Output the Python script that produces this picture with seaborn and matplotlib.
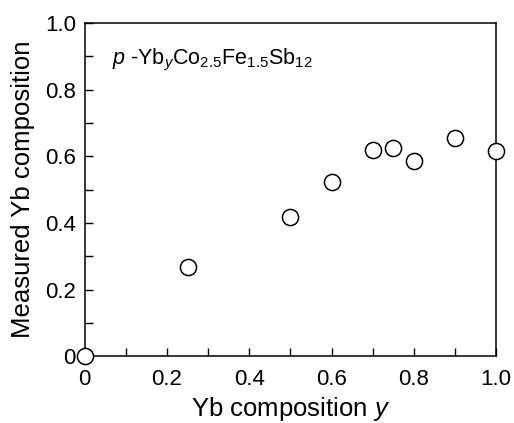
import matplotlib
matplotlib.use("Agg")
import matplotlib.pyplot as plt
import seaborn as sns
import pandas as pd
from matplotlib.ticker import MultipleLocator, FixedLocator

nominal_y = [0.0, 0.25, 0.5, 0.6, 0.7, 0.75, 0.8, 0.9, 1.0]
measured_yb = [0.0, 0.267, 0.418, 0.523, 0.62, 0.625, 0.585, 0.655, 0.617]
tick_vals = [0, 0.2, 0.4, 0.6, 0.8, 1.0]
tick_labels = ["0", "0.2", "0.4", "0.6", "0.8", "1.0"]

df = pd.DataFrame({"y": nominal_y, "m": measured_yb})

sns.set_style("ticks")
plt.rcParams["font.family"] = ["Liberation Sans", "DejaVu Sans"]
plt.rcParams["mathtext.fontset"] = "custom"
plt.rcParams["mathtext.rm"] = "Liberation Sans"
plt.rcParams["mathtext.it"] = "Liberation Sans:italic"
plt.rcParams["text.color"] = "black"
plt.rcParams["axes.labelcolor"] = "black"
plt.rcParams["xtick.color"] = "black"
plt.rcParams["ytick.color"] = "black"

fig = plt.figure(figsize=(5.14, 4.23), dpi=100)
ax = fig.add_axes([0.165, 0.158, 0.800, 0.788])

sns.scatterplot(data=df, x="y", y="m", ax=ax, marker="o", s=135,
                facecolor="white", edgecolor="black", linewidth=1.1,
                clip_on=False, zorder=5)

ax.set_xlim(0, 1.0)
ax.set_ylim(0, 1.0)
ax.xaxis.set_major_locator(FixedLocator(tick_vals))
ax.yaxis.set_major_locator(FixedLocator(tick_vals))
ax.set_xticklabels(tick_labels)
ax.set_yticklabels(tick_labels)
ax.xaxis.set_minor_locator(MultipleLocator(0.1))
ax.yaxis.set_minor_locator(MultipleLocator(0.1))
ax.tick_params(axis="both", which="both", direction="in", length=6, width=1,
               top=False, right=False, labelsize=16, color="black",
               labelcolor="black")
ax.tick_params(axis="x", which="major", pad=9)
ax.tick_params(axis="y", which="major", pad=6.5)
for sp in ax.spines.values():
    sp.set_visible(True)
    sp.set_linewidth(1.1)
    sp.set_color("black")

ax.set_xlabel(r"Yb composition $\it{y}$", fontsize=18.5, labelpad=4)
ax.set_ylabel("Measured Yb composition", fontsize=18.5, labelpad=7)

ax.text(0.066, 0.89, r"$\it{p}$ -Yb$_{\it{y}}$Co$_{2.5}$Fe$_{1.5}$Sb$_{12}$",
        fontsize=15.5, ha="left", va="center", transform=ax.transData)

fig.savefig("out.png", dpi=100)
